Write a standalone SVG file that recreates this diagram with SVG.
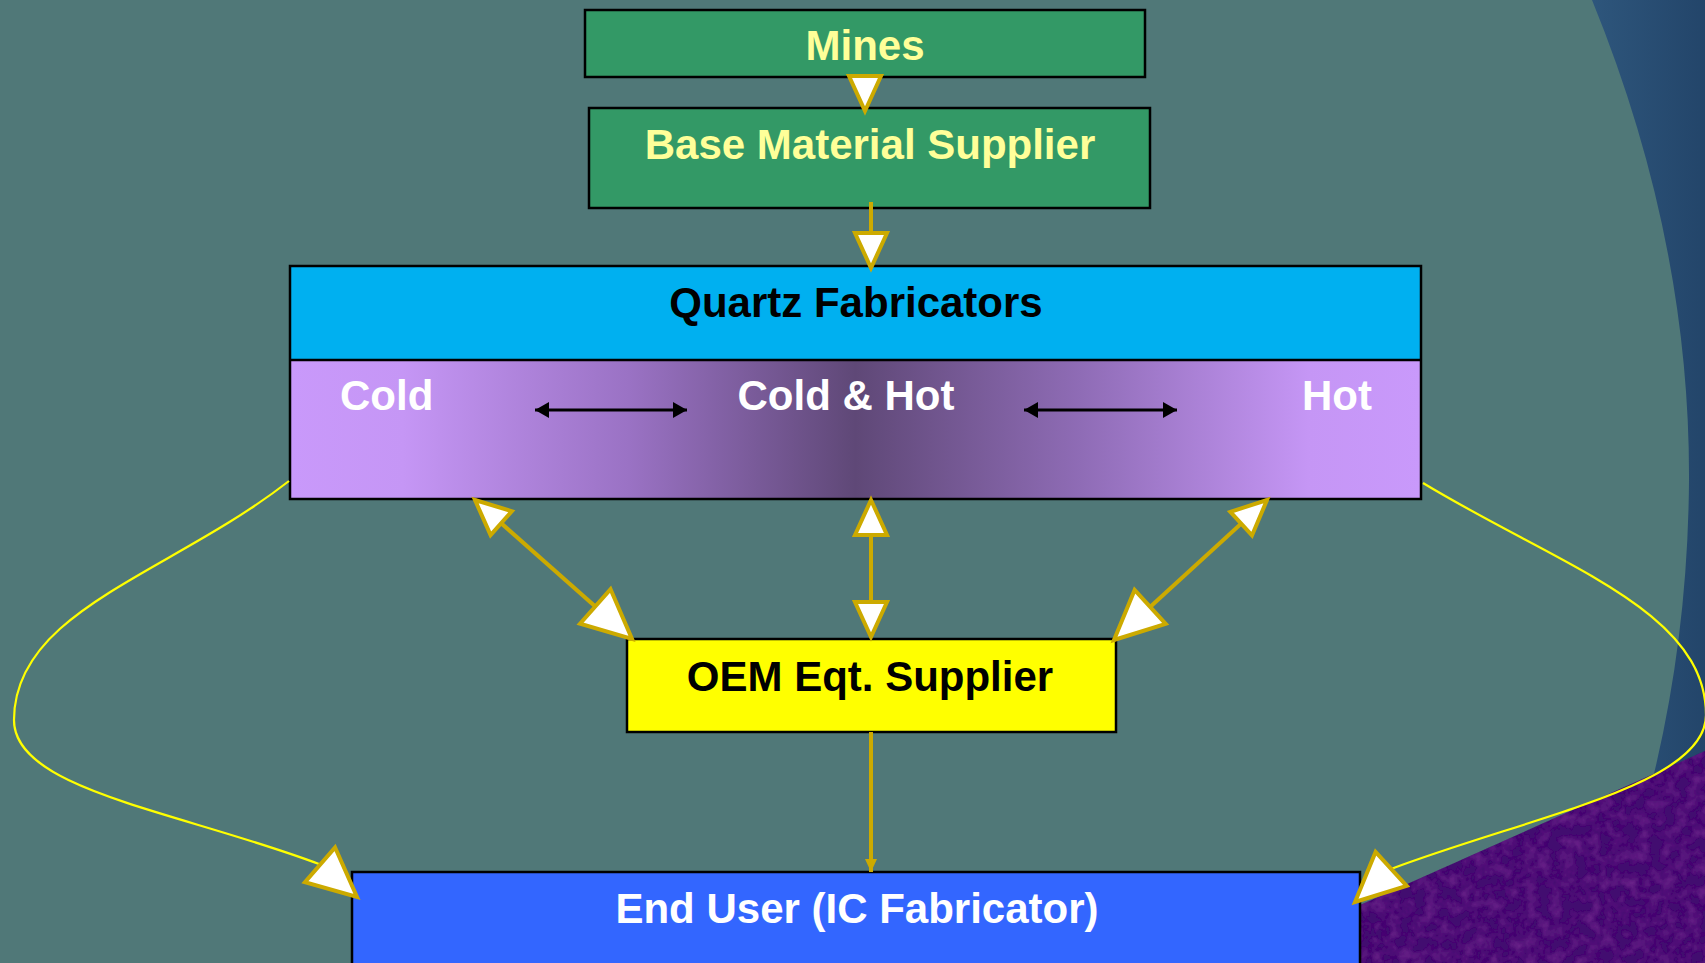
<svg xmlns="http://www.w3.org/2000/svg" width="1705" height="963" viewBox="0 0 1705 963">
<style>
.box{stroke:#000;stroke-width:2.5}
.lbl{font-family:"Liberation Sans",Arial,sans-serif;font-weight:bold;font-size:42px}
.gold{fill:none;stroke:#ccaa00;stroke-width:4}
.curve{fill:none;stroke:#ffff00;stroke-width:2.2}
.blk{fill:none;stroke:#000;stroke-width:3}
</style>
<defs>
<linearGradient id="band" x1="1590" y1="0" x2="1705" y2="0" gradientUnits="userSpaceOnUse">
<stop offset="0" stop-color="#2e567c"/><stop offset="1" stop-color="#23456a"/>
</linearGradient>
<linearGradient id="temp" x1="0" y1="0" x2="1" y2="0">
<stop offset="0" stop-color="#c999fb"/>
<stop offset="0.1" stop-color="#c596f5"/>
<stop offset="0.3" stop-color="#9a72c4"/>
<stop offset="0.5" stop-color="#5f4877"/>
<stop offset="0.7" stop-color="#8f6cb6"/>
<stop offset="0.9" stop-color="#c596f5"/>
<stop offset="1" stop-color="#c999fb"/>
</linearGradient>
<filter id="tex" x="0" y="0" width="1" height="1">
<feTurbulence type="fractalNoise" baseFrequency="0.08" numOctaves="3" seed="4" result="n"/>
<feColorMatrix in="n" type="matrix" values="0 0 0 0 0.17  0 0 0 0 0.02  0 0 0 0 0.28  1.4 0 0 0 -0.55" result="c"/>
<feComposite in="c" in2="SourceGraphic" operator="in" result="t"/>
<feMerge><feMergeNode in="SourceGraphic"/><feMergeNode in="t"/></feMerge>
</filter>
<marker id="hm" markerUnits="userSpaceOnUse" refX="35" refY="16" markerWidth="40" markerHeight="34" orient="auto-start-reverse" overflow="visible">
<path d="M0,0 L35,16 L0,32 Z" fill="#fff" stroke="#ccaa00" stroke-width="4"/>
</marker>
<marker id="hl" markerUnits="userSpaceOnUse" refX="49" refY="23" markerWidth="54" markerHeight="48" orient="auto-start-reverse" overflow="visible">
<path d="M0,0 L49,23 L0,46 Z" fill="#fff" stroke="#ccaa00" stroke-width="4"/>
</marker>
<marker id="hs" markerUnits="userSpaceOnUse" refX="13" refY="6" markerWidth="14" markerHeight="12" orient="auto" overflow="visible">
<path d="M0,0 L13,6 L0,12 Z" fill="#ccaa00"/>
</marker>
<marker id="hb" markerUnits="userSpaceOnUse" refX="14" refY="8" markerWidth="15" markerHeight="16" orient="auto-start-reverse" overflow="visible">
<path d="M0,0 L14,8 L0,16 Z" fill="#000"/>
</marker>
</defs>

<g id="background">
<rect x="0" y="0" width="1705" height="963" fill="#507878"/>
<path d="M1592,0 Q1690,240 1689,480 Q1688,640 1650,790 L1705,790 L1705,0 Z" fill="url(#band)"/>
<path d="M1340,914 L1705,751 L1705,963 L1340,963 Z" fill="#43116f" filter="url(#tex)"/>
</g>

<g id="mines">
<rect class="box" x="585" y="10" width="560" height="67" fill="#339966"/>
<text class="lbl" x="865" y="60" text-anchor="middle" fill="#ffff99">Mines</text>
</g>

<g id="base-material-supplier">
<rect class="box" x="589" y="108" width="561" height="100" fill="#339966"/>
<text class="lbl" x="870" y="159" text-anchor="middle" fill="#ffff99">Base Material Supplier</text>
</g>

<g id="quartz-fabricators">
<rect x="290" y="266" width="1131" height="94" fill="#00b0f0"/>
<rect x="290" y="360" width="1131" height="139" fill="url(#temp)"/>
<rect class="box" x="290" y="266" width="1131" height="233" fill="none"/>
<line x1="290" y1="360" x2="1421" y2="360" stroke="#000" stroke-width="2.5"/>
<text class="lbl" x="856" y="317" text-anchor="middle" fill="#000">Quartz Fabricators</text>
<text class="lbl" x="340" y="410" fill="#fff">Cold</text>
<text class="lbl" x="846" y="410" text-anchor="middle" fill="#fff">Cold &amp; Hot</text>
<text class="lbl" x="1302" y="410" fill="#fff">Hot</text>
</g>

<g id="oem-eqt-supplier">
<rect class="box" x="627" y="639" width="489" height="93" fill="#ffff00"/>
<text class="lbl" x="870" y="691" text-anchor="middle" fill="#000">OEM Eqt. Supplier</text>
</g>

<g id="end-user">
<rect class="box" x="352" y="872" width="1008" height="100" fill="#3366ff"/>
<text class="lbl" x="857" y="923" text-anchor="middle" fill="#fff">End User (IC Fabricator)</text>
</g>

<g id="connectors">
<line class="blk" x1="535" y1="410" x2="687" y2="410" marker-start="url(#hb)" marker-end="url(#hb)"/>
<line class="blk" x1="1024" y1="410" x2="1177" y2="410" marker-start="url(#hb)" marker-end="url(#hb)"/>
<line class="gold" x1="865" y1="76" x2="865" y2="111" marker-end="url(#hm)"/>
<line class="gold" x1="871" y1="202" x2="871" y2="268" marker-end="url(#hm)"/>
<line class="gold" x1="871" y1="500" x2="871" y2="637" marker-start="url(#hm)" marker-end="url(#hm)"/>
<line class="gold" x1="475" y1="500" x2="632" y2="639" marker-start="url(#hm)" marker-end="url(#hl)"/>
<line class="gold" x1="1267" y1="500" x2="1114" y2="640" marker-start="url(#hm)" marker-end="url(#hl)"/>
<line class="gold" x1="871" y1="732" x2="871" y2="872" marker-end="url(#hs)"/>
<path class="curve" d="M289,481 C170,574 14,610 14,720 C14,790 178,811 319,864 L357,897" marker-end="url(#hl)"/>
<path class="curve" d="M1423,483 C1560,566 1706,610 1706,715 C1706,785 1532,816 1391,869 L1355,902" marker-end="url(#hl)"/>
</g>
</svg>
